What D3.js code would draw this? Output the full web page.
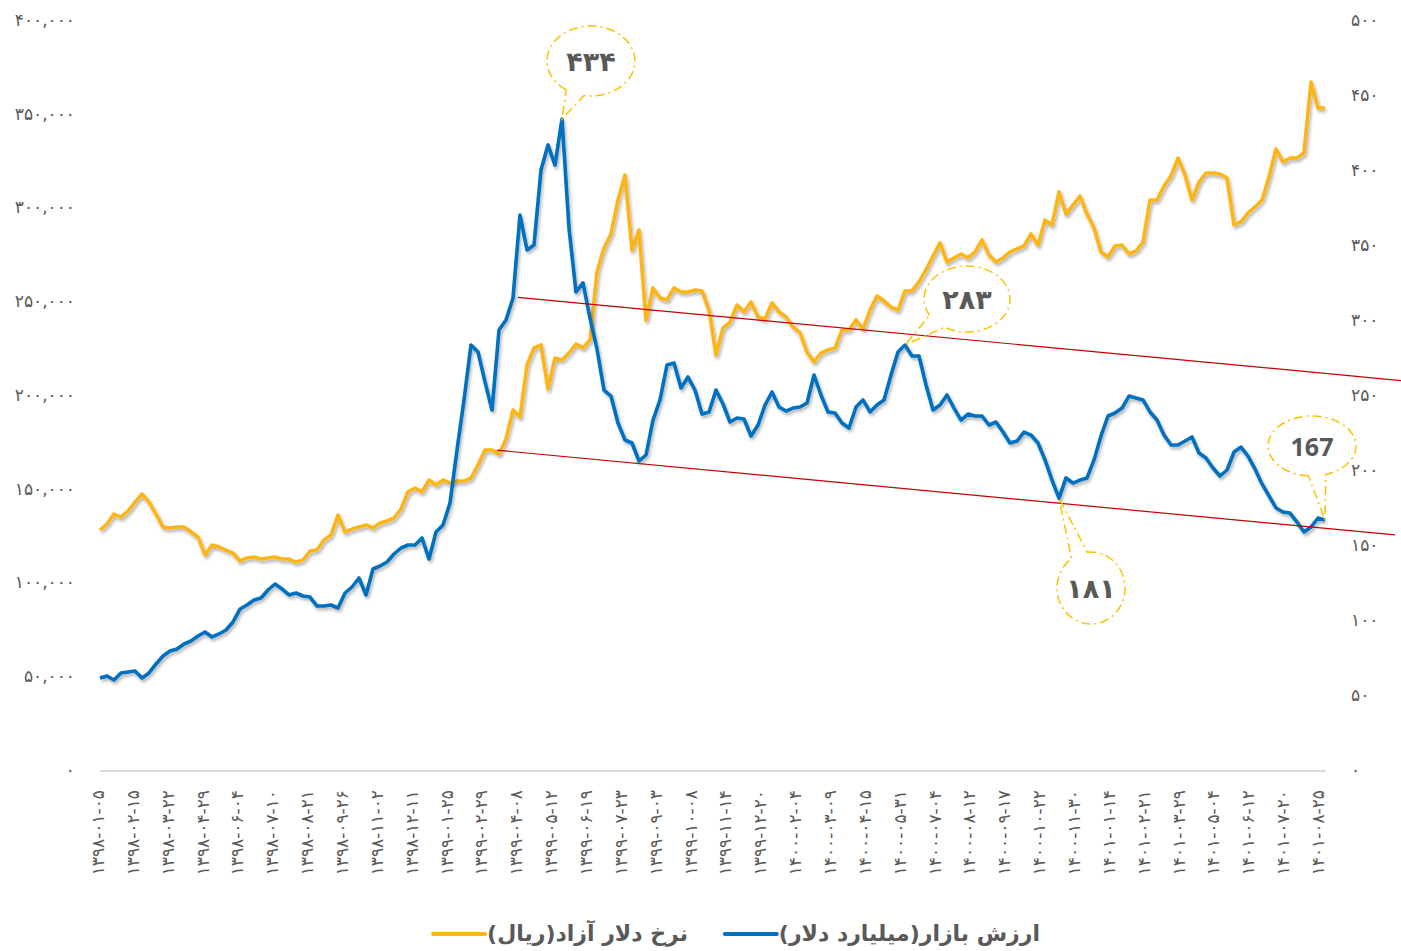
<!DOCTYPE html>
<html>
<head>
<meta charset="utf-8">
<script src="https://cdn.jsdelivr.net/npm/d3@7"></script>
<style>
body { margin: 0; background: #fff; }
</style>
</head>
<body>
<div id="chart"></div>
<script>
// tick labels of the category axis (every 5th point)
var dateLabels = [
	"۱۳۹۸-۰۱-۰۵", "۱۳۹۸-۰۲-۱۵", "۱۳۹۸-۰۳-۲۲", "۱۳۹۸-۰۴-۲۹", "۱۳۹۸-۰۶-۰۴", "۱۳۹۸-۰۷-۱۰",
	"۱۳۹۸-۰۸-۲۱", "۱۳۹۸-۰۹-۲۶", "۱۳۹۸-۱۱-۰۲", "۱۳۹۸-۱۲-۱۱", "۱۳۹۹-۰۱-۲۵", "۱۳۹۹-۰۲-۲۹",
	"۱۳۹۹-۰۴-۰۸", "۱۳۹۹-۰۵-۱۲", "۱۳۹۹-۰۶-۱۹", "۱۳۹۹-۰۷-۲۳", "۱۳۹۹-۰۹-۰۳", "۱۳۹۹-۱۰-۰۸",
	"۱۳۹۹-۱۱-۱۴", "۱۳۹۹-۱۲-۲۰", "۱۴۰۰-۰۲-۰۴", "۱۴۰۰-۰۳-۰۹", "۱۴۰۰-۰۴-۱۵", "۱۴۰۰-۰۵-۳۱",
	"۱۴۰۰-۰۷-۰۴", "۱۴۰۰-۰۸-۱۲", "۱۴۰۰-۰۹-۱۷", "۱۴۰۰-۱۰-۲۲", "۱۴۰۰-۱۱-۳۰", "۱۴۰۱-۰۱-۱۴",
	"۱۴۰۱-۰۲-۲۱", "۱۴۰۱-۰۳-۲۹", "۱۴۰۱-۰۵-۰۴", "۱۴۰۱-۰۶-۱۲", "۱۴۰۱-۰۷-۲۰", "۱۴۰۱-۰۸-۲۵"
];

// free market dollar rate (rial), left axis
var dollarRate = [
	128000,131200,136500,134900,138100,142900,147200,142900,136500,129600,
	129100,129600,129600,126900,124300,114700,120000,118900,117300,115700,
	111500,113100,113600,112500,113100,113600,112500,112500,110900,112000,
	116800,117300,122700,125300,136000,126900,128500,129600,130700,129100,
	131700,132800,134400,139200,148300,150400,148300,154700,152000,154700,
	153100,154100,154100,155700,162700,170700,170700,168500,176500,192000,
	188300,216000,225100,226700,203200,219700,218700,222400,227200,225100,
	229300,265600,278400,285900,304000,317300,277300,288000,240000,257100,
	251700,250700,257100,254900,254900,256000,255500,245300,221300,235700,
	238900,248000,244300,249600,241600,240500,249100,244300,241600,236300,
	233100,222900,217600,222400,224000,225100,234700,234700,240000,235200,
	245300,252800,250100,246900,245300,255500,255500,260300,266700,274100,
	281100,270900,273100,275200,273100,276300,282700,274700,270900,273100,
	276300,277900,279500,285900,280000,293300,290700,308300,296500,301300,
	306100,296500,289100,276300,273600,279500,280000,275200,276800,281600,
	304000,304000,311500,316800,326400,317300,304000,313600,318400,318400,
	317900,315700,290700,292300,297100,300300,304000,316300,331200,324300,
	326400,326400,329100,366900,353100,353100
];

// market value (billion dollars), right axis
var marketValue = [
	61.3,62.7,60,64.7,65.3,66,61.3,64.7,70.7,76,
	79.3,80.7,84,86,89.3,92,88.7,90.7,93.3,98.7,
	107.3,110,113.3,114.7,120,124,120.7,116.7,118,116,
	115.3,109.3,109.3,110,108,118,122,128,116.7,134,
	136,138.7,144,148,150,150,154.7,140.7,158.7,163.3,
	178,213.3,246.7,283.3,278.7,258.7,240,293.3,300,314.7,
	370,346.7,350,400,416.7,403.3,434,361.3,318.7,324.7,
	301.3,280.7,253.3,249.3,231.3,220,218,206,210,233.3,
	246.7,270,271.3,254.7,262,253.3,237.3,238.7,253.3,244,
	232,234.7,234,222.7,230,243.3,252,242,239.3,241.3,
	242,244.7,263.3,250,238.7,238,231.3,228,242,246.7,
	238.7,243.3,246.7,263.3,278.7,283.3,276,276,256.7,240,
	243.3,250,241.3,233.3,237.3,236,236,230,232,225.3,
	218,219.3,225.3,223.3,218,206.7,193.3,181.3,194.7,191.3,
	193.3,194.7,206.7,222.7,236,238,241.3,249.3,248,246.7,
	238.7,233.3,223.3,216.7,216.7,219.3,222,211.3,208,201.3,
	196,200,212,215.3,209.3,200.7,190.7,182.7,174.7,172,
	171.3,165.3,158.7,162,168,166.7
];

// channel lines drawn on the market value, as [index, value] pairs
var trendUpper = [[59.7, 315.1], [185.9, 259.6]];
var trendLower = [[56.7, 213.2], [185.0, 156.7]];

// annotated points of the market value
var calloutIndex = [66, 115, 137, 175];
var calloutLatin = [false, false, false, true];

var legendNames = ["ارزش بازار(میلیارد دلار)", "نرخ دلار آزاد(ریال)"];

function fa(s) {
	return String(s).replace(/\d/g, function(d) { return "۰۱۲۳۴۵۶۷۸۹"[+d]; });
}

var width = 1401, height = 951,
	plotLeft = 100, plotRight = 1326, plotTop = 20, plotBottom = 770,
	orange = "#FDB515", blue = "#0070C0", textColor = "#595959",
	faFont = "'DejaVu Sans', sans-serif";

var svg = d3.select("#chart").append("svg")
	.attr("width", width)
	.attr("height", height);

var defs = svg.append("defs");
var shadow = defs.append("filter")
	.attr("id", "shadow")
	.attr("x", "-5%").attr("y", "-5%")
	.attr("width", "110%").attr("height", "110%");
shadow.append("feDropShadow")
	.attr("dx", 1.5).attr("dy", 2.5)
	.attr("stdDeviation", 1.6)
	.attr("flood-color", "#000")
	.attr("flood-opacity", 0.3);

var xScale = d3.scaleLinear().domain([0, dollarRate.length - 1]).range([plotLeft, plotRight - 1]),
	xLabel = d3.scalePoint().domain(dateLabels).range([98, 1318]),
	yLeft = d3.scaleLinear().domain([0, 400000]).range([plotBottom, plotTop]),
	yRight = d3.scaleLinear().domain([0, 500]).range([plotBottom, plotTop]);

// left axis
var axisL = svg.append("g")
	.attr("transform", "translate(" + plotLeft + ",0)")
	.call(d3.axisLeft(yLeft).tickValues(d3.range(0, 400001, 50000))
		.tickSize(0).tickPadding(25)
		.tickFormat(function(d) { return fa(d3.format(",")(d)); }));
axisL.select(".domain").remove();

// right axis
var axisR = svg.append("g")
	.attr("transform", "translate(" + plotRight + ",0)")
	.call(d3.axisRight(yRight).tickValues(d3.range(0, 501, 50))
		.tickSize(0).tickPadding(25)
		.tickFormat(function(d) { return fa(d); }));
axisR.select(".domain").remove();

svg.selectAll(".tick text")
	.attr("fill", textColor)
	.style("font-family", faFont)
	.style("font-size", "17px");

// category axis line
svg.append("line")
	.attr("x1", plotLeft).attr("x2", plotRight)
	.attr("y1", plotBottom + 1).attr("y2", plotBottom + 1)
	.attr("stroke", "#d9d9d9")
	.attr("stroke-width", 2);

svg.append("g").selectAll("text")
	.data(dateLabels)
	.enter().append("text")
	.attr("transform", function(d) { return "translate(" + xLabel(d) + ",790) rotate(-90)"; })
	.attr("text-anchor", "end")
	.attr("dominant-baseline", "central")
	.attr("fill", textColor)
	.style("font-family", faFont)
	.style("font-size", "17px")
	.text(function(d) { return d; });

// series
var lineL = d3.line()
	.x(function(d, i) { return xScale(i); })
	.y(function(d) { return yLeft(d); });
var lineR = d3.line()
	.x(function(d, i) { return xScale(i); })
	.y(function(d) { return yRight(d); });

svg.append("path")
	.datum(dollarRate)
	.attr("d", lineL)
	.attr("fill", "none")
	.attr("stroke", orange)
	.attr("stroke-width", 3.6)
	.attr("stroke-linejoin", "round")
	.attr("filter", "url(#shadow)");

svg.append("path")
	.datum(marketValue)
	.attr("d", lineR)
	.attr("fill", "none")
	.attr("stroke", blue)
	.attr("stroke-width", 3.6)
	.attr("stroke-linejoin", "round")
	.attr("filter", "url(#shadow)");

// channel
[trendUpper, trendLower].forEach(function(t) {
	svg.append("line")
		.attr("x1", xScale(t[0][0])).attr("y1", yRight(t[0][1]))
		.attr("x2", xScale(t[1][0])).attr("y2", yRight(t[1][1]))
		.attr("stroke", "#C00000")
		.attr("stroke-width", 1.2);
});

// callouts: ellipse centre offset from the pointed value, radii
var calloutShape = [
	{ dx: 29, dy: -58, rx: 44, ry: 35, spread: 0.22 },
	{ dx: 62, dy: -46, rx: 43, ry: 33, spread: 0.25 },
	{ dx: 32, dy: 90, rx: 34, ry: 36, spread: 0.25 },
	{ dx: -13, dy: -74, rx: 44, ry: 30, spread: 0.2 }
];

calloutIndex.forEach(function(idx, k) {
	var s = calloutShape[k],
		tx = xScale(idx), ty = yRight(marketValue[idx]),
		cx = tx + s.dx, cy = ty + s.dy,
		th = Math.atan2((ty - cy) / s.ry, (tx - cx) / s.rx),
		a1 = th + s.spread, a2 = th - s.spread,
		b1 = [cx + s.rx * Math.cos(a1), cy + s.ry * Math.sin(a1)],
		b2 = [cx + s.rx * Math.cos(a2), cy + s.ry * Math.sin(a2)];
	var d = "M" + b1[0] + "," + b1[1] +
		"A" + s.rx + "," + s.ry + " 0 1 1 " + b2[0] + "," + b2[1] +
		"L" + tx + "," + ty + "Z";
	svg.append("path")
		.attr("d", d)
		.attr("fill", "none")
		.attr("stroke", "#FFC000")
		.attr("stroke-width", 1.5)
		.attr("stroke-dasharray", "9,4,2,4");
	var v = Math.round(marketValue[idx]);
	svg.append("text")
		.attr("x", cx).attr("y", cy)
		.attr("text-anchor", "middle")
		.attr("dominant-baseline", "central")
		.attr("fill", textColor)
		.style("font-family", calloutLatin[k] ? "'Open Sans', sans-serif" : faFont)
		.style("font-weight", "bold")
		.style("font-size", calloutLatin[k] ? "25px" : "27px")
		.text(calloutLatin[k] ? v : fa(v));
});

// legend
var legendColors = [blue, orange],
	legendRight = [1040, 688];
legendNames.forEach(function(name, i) {
	var t = svg.append("text")
		.attr("x", legendRight[i]).attr("y", 933)
		.attr("direction", "rtl")
		.attr("text-anchor", "start")
		.attr("dominant-baseline", "central")
		.attr("fill", textColor)
		.style("font-family", faFont)
		.style("font-weight", "bold")
		.style("font-size", "22px")
		.text(name);
	var bb = t.node().getBBox();
	svg.append("line")
		.attr("x1", bb.x - 54).attr("x2", bb.x - 2)
		.attr("y1", 934).attr("y2", 934)
		.attr("stroke", legendColors[i])
		.attr("stroke-width", 4)
		.attr("stroke-linecap", "round");
});
</script>
</body>
</html>
